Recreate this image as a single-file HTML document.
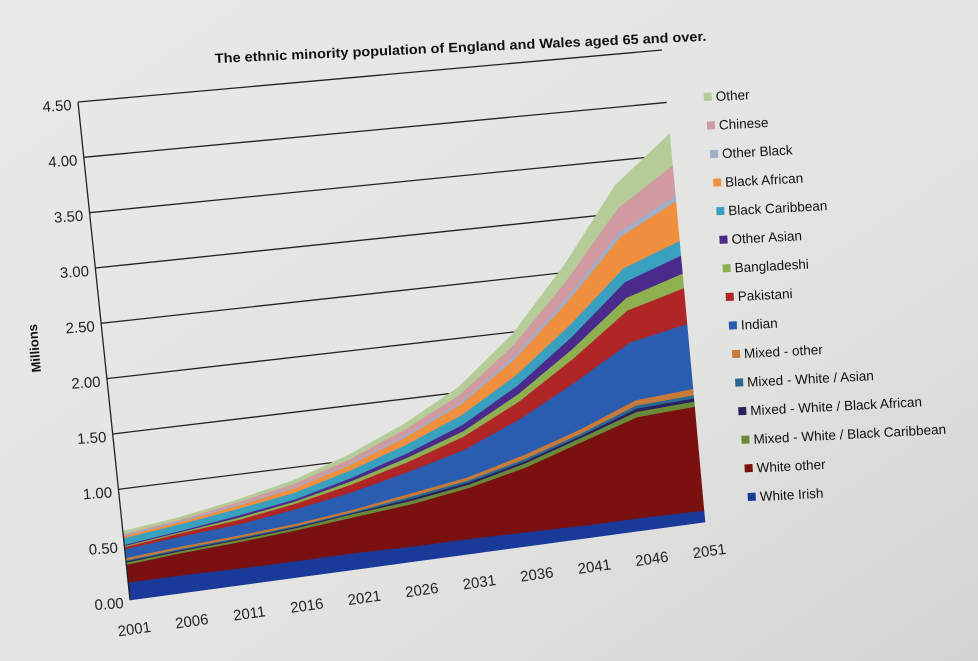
<!DOCTYPE html>
<html><head><meta charset="utf-8"><style>
html,body{margin:0;padding:0;width:978px;height:661px;overflow:hidden;background:#e2e4e2;}
svg{display:block;font-family:"Liberation Sans",sans-serif;}
</style></head><body>
<svg id="s" width="978" height="661" viewBox="0 0 978 661" xmlns="http://www.w3.org/2000/svg">
<defs>
<linearGradient id="bg" x1="0" y1="0" x2="1" y2="1">
<stop offset="0" stop-color="#e8eae8"/><stop offset="0.6" stop-color="#e3e4e2"/><stop offset="1" stop-color="#d4d4d2"/>
</linearGradient>
</defs>
<rect width="978" height="661" fill="url(#bg)"/>
<g id="grid"></g>
<g id="areas"></g>
<g id="axes"></g>
<text x="215" y="63" font-size="13.5" font-weight="bold" fill="#111" textLength="492" lengthAdjust="spacingAndGlyphs" transform="rotate(-2.6 215 63)">The ethnic minority population of England  and Wales aged 65 and over.</text>
<text x="0" y="0" font-size="13" font-weight="bold" fill="#111" transform="translate(41 372) rotate(-95)">Millions</text>
<g id="legend" font-size="13.5" fill="#111"></g>
</svg>
<script>
const TL=[78,102],BL=[130,600],BR=[705,522],TR=[662,50];
function P(t,v){const u=v/4.5;const lx=BL[0]+u*(TL[0]-BL[0]),ly=BL[1]+u*(TL[1]-BL[1]);
const rx=BR[0]+u*(TR[0]-BR[0]),ry=BR[1]+u*(TR[1]-BR[1]);return [lx+t*(rx-lx),ly+t*(ry-ly)];}
const NS="http://www.w3.org/2000/svg";
function el(tag,a,parent,txt){const e=document.createElementNS(NS,tag);for(const k in a)e.setAttribute(k,a[k]);if(txt!=null)e.textContent=txt;parent.appendChild(e);return e;}
const grid=document.getElementById('grid'),axes=document.getElementById('axes'),areas=document.getElementById('areas');
for(let i=1;i<=9;i++){const v=i*0.5;const a=P(0,v),b=P(1,v);
el('line',{x1:a[0],y1:a[1],x2:b[0],y2:b[1],stroke:'#222','stroke-width':1.3},grid);}
const a0=P(0,0),a1=P(0,4.5);
el('line',{x1:a0[0],y1:a0[1],x2:a1[0],y2:a1[1],stroke:'#222','stroke-width':1.3},axes);
const labs=["0.00","0.50","1.00","1.50","2.00","2.50","3.00","3.50","4.00","4.50"];
labs.forEach((l,i)=>{const p=P(0,i*0.5);el('text',{x:p[0]-6,y:p[1]+8,'font-size':15,'text-anchor':'end',fill:'#222',transform:`rotate(-4 ${p[0]-6} ${p[1]+8})`},axes,l);});
for(let i=0;i<=10;i++){const p=P(i/10,0);const x=p[0]+5,y=p[1]+34;
el('text',{x:x,y:y,'font-size':15,'text-anchor':'middle',fill:'#222',transform:`rotate(-8 ${x} ${y})`},axes,String(2001+5*i));}
const series=[
["White Irish","#1a3a9a",[.16,.16,.15,.15,.15,.14,.14,.13,.12,.12,.11]],
["White other","#7a1010",[.16,.2,.24,.28,.33,.39,.47,.6,.78,.95,.99]],
["Mixed - White / Black Caribbean","#6a8a3a",[.02,.02,.02,.02,.03,.03,.03,.04,.04,.05,.05]],
["Mixed - White / Black African","#2a2060",[.01,.01,.01,.01,.01,.02,.02,.02,.02,.03,.03]],
["Mixed - White / Asian","#2a6a90",[.01,.01,.01,.01,.01,.02,.02,.02,.02,.03,.03]],
["Mixed - other","#c77a3a",[.02,.02,.02,.02,.02,.03,.03,.04,.04,.05,.06]],
["Indian","#2a5cb0",[.08,.09,.1,.13,.16,.2,.26,.34,.45,.55,.62]],
["Pakistani","#b02525",[.02,.03,.04,.05,.07,.09,.12,.16,.22,.3,.34]],
["Bangladeshi","#8fb050",[.01,.01,.02,.02,.03,.04,.05,.07,.09,.12,.14]],
["Other Asian","#4a2a8a",[.01,.01,.02,.02,.03,.04,.06,.08,.11,.15,.17]],
["Black Caribbean","#3aa0c0",[.06,.06,.06,.06,.07,.08,.09,.1,.12,.13,.14]],
["Black African","#f0903f",[.02,.02,.03,.04,.05,.07,.1,.15,.22,.3,.38]],
["Other Black","#9eaecb",[.01,.01,.01,.01,.01,.02,.02,.03,.04,.05,.05]],
["Chinese","#d09aa0",[.01,.01,.02,.03,.04,.05,.07,.1,.15,.22,.29]],
["Other","#b5cc98",[.02,.02,.02,.03,.04,.05,.07,.1,.15,.22,.3]]];
let base=new Array(11).fill(0);
series.forEach(s=>{const top=base.map((b,i)=>b+s[2][i]);let pts=[];
for(let i=0;i<=10;i++){const p=P(i/10,top[i]);pts.push(p[0].toFixed(1)+','+p[1].toFixed(1));}
for(let i=10;i>=0;i--){const p=P(i/10,base[i]);pts.push(p[0].toFixed(1)+','+p[1].toFixed(1));}
el('polygon',{points:pts.join(' '),fill:s[1],stroke:s[1],'stroke-width':0.6},areas);base=top;});
const lg=document.getElementById('legend');
const rev=series.slice().reverse();
rev.forEach((s,i)=>{const f=i/14;const x=704+f*44,y=101+f*400;
el('rect',{x:x,y:y-8,width:8,height:8,fill:s[1],transform:`rotate(-3 ${x} ${y})`},lg);
el('text',{x:x+12,y:y,transform:`rotate(-3 ${x+12} ${y})`},lg,s[0]);});
</script>
</body></html>
